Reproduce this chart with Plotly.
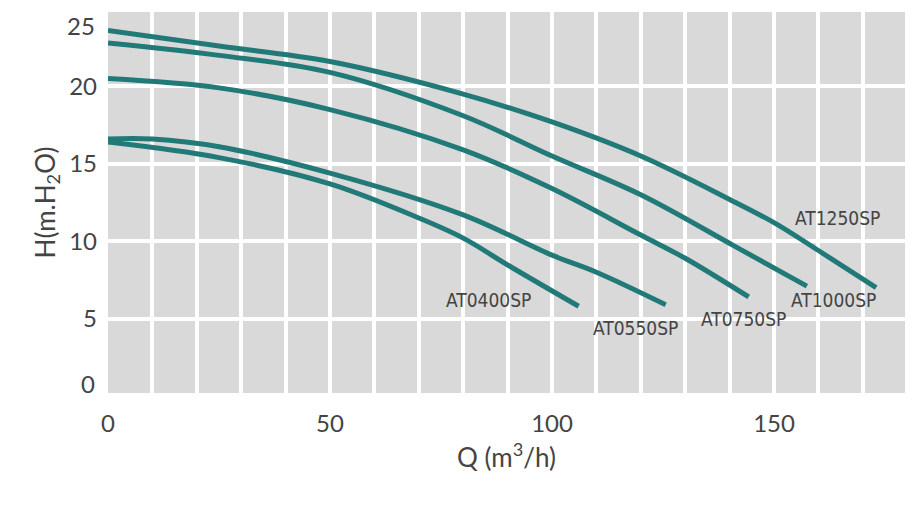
import plotly.graph_objects as go

names = ["AT1250SP", "AT1000SP", "AT0750SP", "AT0550SP", "AT0400SP"]
q_1250 = [0, 25, 50, 80, 100, 120, 140, 150, 160, 173]
h_1250 = [23.6, 22.6, 21.6, 19.5, 17.7, 15.5, 12.7, 11.2, 9.4, 7.0]
q_1000 = [0, 25, 50, 80, 100, 120, 141, 157.4]
h_1000 = [22.8, 22.0, 20.9, 18.1, 15.5, 13.0, 9.7, 7.1]
q_0750 = [0, 25, 50, 80, 100, 120, 130, 144.3]
h_0750 = [20.5, 19.9, 18.5, 15.9, 13.4, 10.4, 8.9, 6.4]
q_0550 = [0, 10, 25, 50, 80, 100, 110, 125.6]
h_0550 = [16.6, 16.6, 16.1, 14.4, 11.7, 9.1, 8.0, 5.9]
q_0400 = [0, 25, 50, 70, 80, 90.4, 106]
h_0400 = [16.4, 15.4, 13.7, 11.5, 10.2, 8.4, 5.8]
label_x = [164.4, 163.3, 143.2, 118.7, 85.6]
label_y = [11.5, 6.2, 5.0, 4.4, 6.2]
xticks = [0, 50, 100, 150]
yticks = [5, 10, 15, 20]
extra_ytick_labels = ["25", "0"]
extra_ytick_pos = [23.9, 0.84]

series = [(q_1250, h_1250), (q_1000, h_1000), (q_0750, h_0750), (q_0550, h_0550), (q_0400, h_0400)]
color = "#217a78"
fig = go.Figure()
for (q, h) in series:
    fig.add_trace(go.Scatter(x=q, y=h, mode="lines", line=dict(color=color, width=5, shape="spline", smoothing=1),
                             showlegend=False, hoverinfo="skip"))
for n, lx, ly in zip(names, label_x, label_y):
    fig.add_annotation(x=lx, y=ly, text=n, showarrow=False, xanchor="center",
                       font=dict(family="Liberation Sans Narrow, DejaVu Sans Condensed, sans-serif", size=19, color="#444"))
for t, yv in zip(extra_ytick_labels, extra_ytick_pos):
    fig.add_annotation(x=0, xref="paper", xshift=-11, y=yv, text=t, showarrow=False, xanchor="right",
                       font=dict(family="Lato, Open Sans, sans-serif", size=24, color="#444"))

fig.update_layout(
    width=903, height=500, margin=dict(l=100, r=6, t=4, b=115, autoexpand=False),
    paper_bgcolor="white", plot_bgcolor="#d9d9d9",
    font=dict(family="Lato, Open Sans, sans-serif", color="#444"),
    xaxis=dict(range=[0, 179.5], tickvals=xticks, showgrid=False, zeroline=False, automargin=False,
               minor=dict(dtick=10, showgrid=True, gridcolor="white", gridwidth=4),
               tickfont=dict(size=24), ticklabelstandoff=14, ticks="",
               title=dict(text="Q (m<sup>3</sup>/h)", font=dict(size=26), standoff=12)),
    yaxis=dict(range=[0.2, 24.8], tickvals=yticks, showgrid=True, gridcolor="white", gridwidth=4,
               zeroline=False, automargin=False, tickfont=dict(size=24), ticklabelstandoff=10, ticks="",
               title=dict(text="H(m.H<sub>2</sub>O)", font=dict(size=26), standoff=6)),
)
fig.write_html("out.html")
